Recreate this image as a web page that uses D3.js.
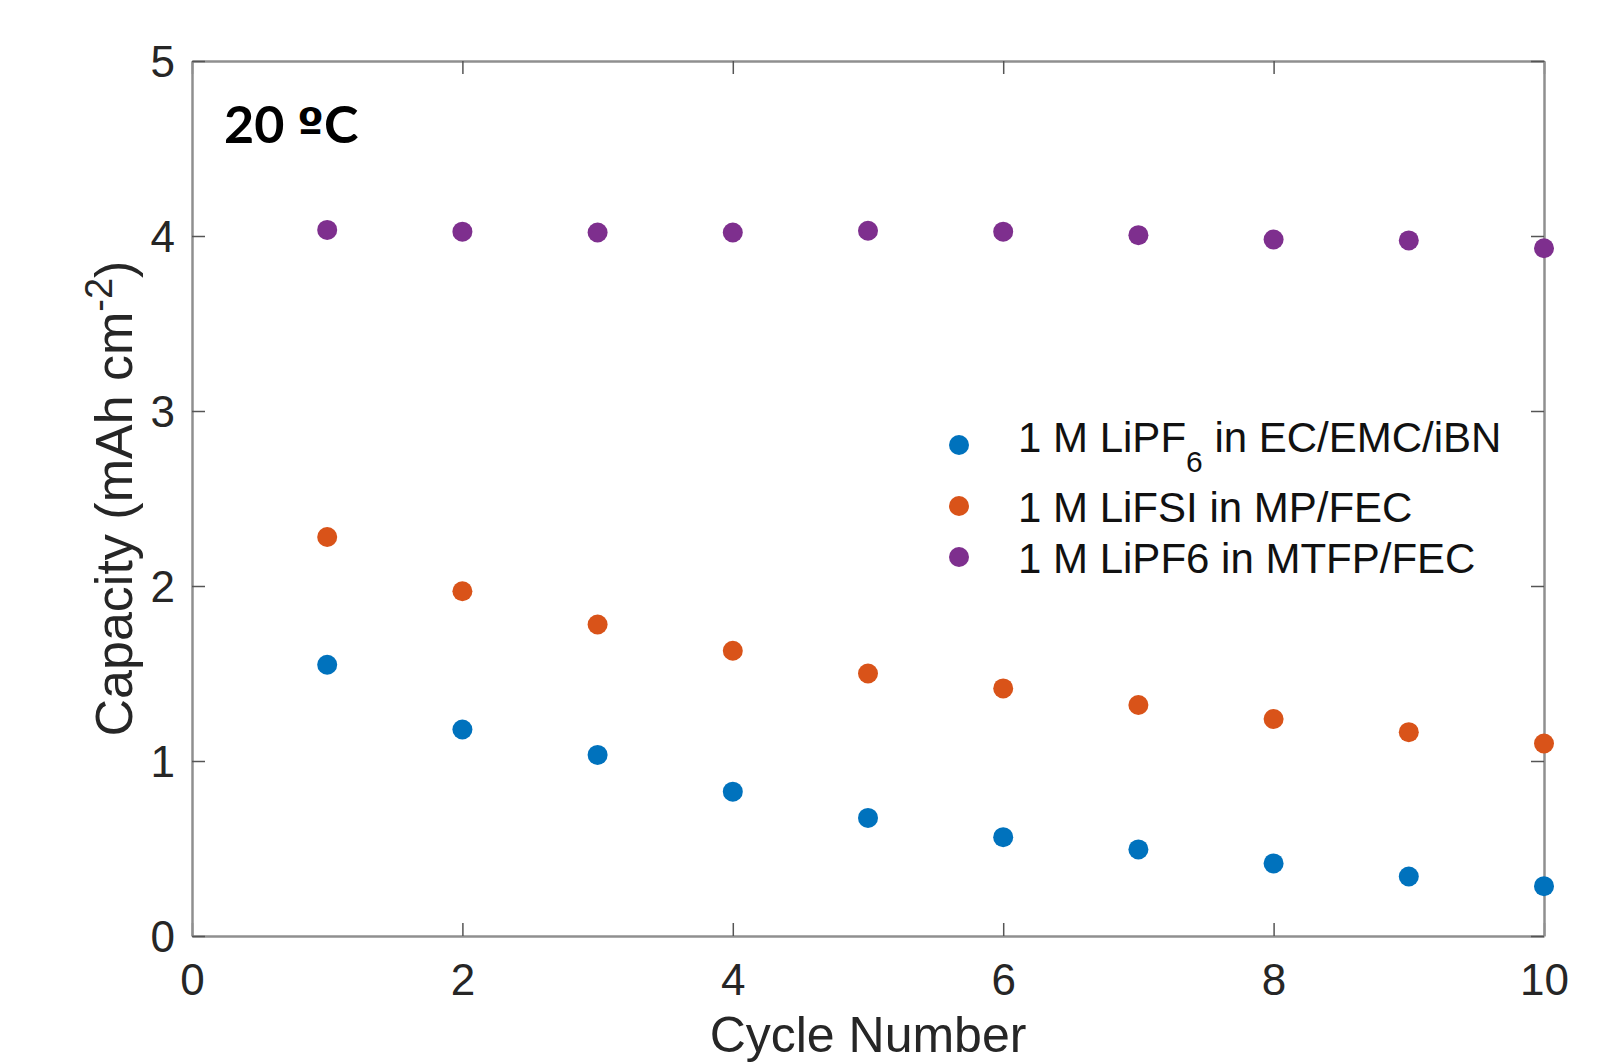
<!DOCTYPE html>
<html>
<head>
<meta charset="utf-8">
<script src="https://cdn.jsdelivr.net/npm/d3@7"></script>
<style>
body { margin: 0; background: #fff; }
svg { display: block; }
</style>
</head>
<body>
<svg id="main" width="1597" height="1064"></svg>
<script>
var cycles = [1, 2, 3, 4, 5, 6, 7, 8, 9, 10];
var ibnCap = [1.55, 1.18, 1.035, 0.825, 0.675, 0.565, 0.495, 0.415, 0.34, 0.285];
var mpCap = [2.28, 1.97, 1.78, 1.63, 1.50, 1.415, 1.32, 1.24, 1.165, 1.10];
var mtfpCap = [4.035, 4.025, 4.02, 4.02, 4.03, 4.025, 4.005, 3.98, 3.975, 3.93];
var xTicks = [0, 2, 4, 6, 8, 10];
var yTicks = [0, 1, 2, 3, 4, 5];
var seriesNames = ["1 M LiPF|6| in EC/EMC/iBN", "1 M LiFSI in MP/FEC", "1 M LiPF6 in MTFP/FEC"];
var seriesColors = ["#0072BD", "#D95319", "#7E2F8E"];

window.onload = function() {
var svg = d3.select("#main");
var left = 192, right = 1544, top = 61, bottom = 936;
var axisCol = "#8f8f8f";
var textCol = "#262626";
var font = "'Liberation Sans', Arial, Helvetica, sans-serif";

var x = d3.scaleLinear().domain([0, 10]).range([left, right]);
var y = d3.scaleLinear().domain([0, 5]).range([bottom, top]);

var tickLen = 13;

// frame ticks (inward), all four sides
var g = svg.append("g");
var xAx = g.append("g").attr("transform", "translate(0," + bottom + ")")
	.call(d3.axisBottom(x).tickValues(xTicks).tickSizeInner(-tickLen).tickSizeOuter(0).tickFormat(d3.format("d")));
g.append("g").attr("transform", "translate(0," + top + ")")
	.call(d3.axisTop(x).tickValues(xTicks).tickSizeInner(-tickLen).tickSizeOuter(0).tickFormat(""));
var yAx = g.append("g").attr("transform", "translate(" + left + ",0)")
	.call(d3.axisLeft(y).tickValues(yTicks).tickSizeInner(-tickLen).tickSizeOuter(0).tickFormat(d3.format("d")));
g.append("g").attr("transform", "translate(" + right + ",0)")
	.call(d3.axisRight(y).tickValues(yTicks).tickSizeInner(-tickLen).tickSizeOuter(0).tickFormat(""));

g.selectAll(".domain").attr("stroke", axisCol).attr("stroke-width", 2.5);
g.selectAll(".tick line").attr("stroke", "#555").attr("stroke-width", 1.5);
g.selectAll(".tick text")
	.attr("fill", textCol)
	.style("font-family", font)
	.style("font-size", "44px");
xAx.selectAll(".tick text").attr("y", 28).attr("dy", "0.71em");
yAx.selectAll(".tick text").attr("x", -17).attr("dy", "0.35em");

// axis titles
svg.append("text")
	.attr("x", (left + right) / 2)
	.attr("y", 1052)
	.attr("text-anchor", "middle")
	.attr("fill", textCol)
	.style("font-family", font)
	.style("font-size", "50px")
	.text("Cycle Number");

var yl = svg.append("text")
	.attr("transform", "translate(132," + ((top + bottom) / 2) + ") rotate(-90)")
	.attr("text-anchor", "middle")
	.attr("fill", textCol)
	.style("font-family", font)
	.style("font-size", "52px");
yl.append("tspan").text("Capacity (mAh cm");
yl.append("tspan").attr("dy", -20).style("font-size", "38px").text("-2");
yl.append("tspan").attr("dy", 20).text(")");

// data points
var allSeries = [ibnCap, mpCap, mtfpCap];
allSeries.forEach(function(vals, i) {
	svg.append("g").selectAll("circle")
		.data(cycles)
		.enter().append("circle")
		.attr("cx", function(d) { return x(d); })
		.attr("cy", function(d, j) { return y(vals[j]); })
		.attr("r", 10)
		.attr("fill", seriesColors[i]);
});

// temperature label
var tl = svg.append("text")
	.attr("x", 224)
	.attr("y", 143)
	.attr("fill", "#000")
	.style("font-family", "Lato, 'Open Sans', sans-serif")
	.style("font-weight", "bold")
	.style("font-size", "52px");
tl.append("tspan").text("20 ");
tl.append("tspan").style("font-family", "'DejaVu Sans', sans-serif").style("font-size", "48px").text("º");
tl.append("tspan").text("C");

// legend
var legY = [445, 506, 557];
var leg = svg.append("g");
seriesNames.forEach(function(name, i) {
	leg.append("circle")
		.attr("cx", 959)
		.attr("cy", legY[i])
		.attr("r", 10)
		.attr("fill", seriesColors[i]);
	var t = leg.append("text")
		.attr("x", 1018)
		.attr("y", legY[i] + (i == 0 ? -8 : 1))
		.attr("dy", "0.35em")
		.attr("fill", "#111")
		.style("font-family", font)
		.style("font-size", "42px");
	var parts = name.split("|");
	if (parts.length == 3) {
		t.append("tspan").text(parts[0]);
		t.append("tspan").attr("dy", 20).style("font-size", "30px").text(parts[1]);
		t.append("tspan").attr("dy", -20).text(parts[2]);
	} else {
		t.text(name);
	}
});
}
</script>
</body>
</html>
